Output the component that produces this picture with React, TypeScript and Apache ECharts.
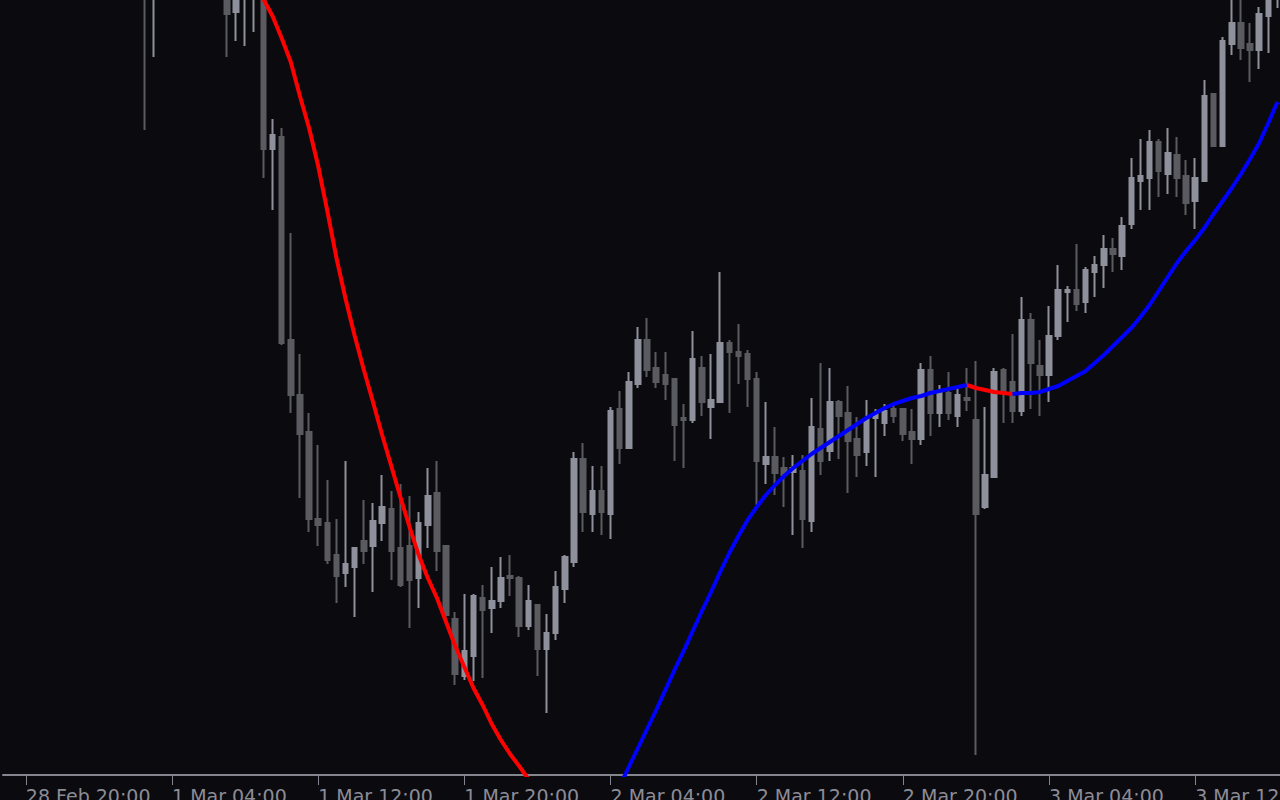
import React, { useEffect, useRef } from "react";
import * as echarts from "echarts";

// 30-minute bars, first bar 28 Feb 19:00
const DAYS = ["28 Feb", "1 Mar", "2 Mar", "3 Mar"];
const START_MINUTE = 19 * 60;
const BAR_MINUTES = 30;
const LABEL_TIMES = ["04:00", "12:00", "20:00"];

const OPEN = [
  825, 845, 835, 860, 850, 870, 855, 835, 853, 840,
  820, 837, 825, 843, 830, 815, 780, 810, 835, 820,
  845, 830, 850, 815, 805, 763, 778, 783, 800, 626,
  638, 435, 380, 343, 256, 252, 220, 202, 208, 234,
  229, 252, 266, 227, 229, 197, 250, 282, 229, 156,
  99, 119, 177, 167, 174, 199, 197, 149, 170, 126,
  142, 186, 213, 316, 261, 284, 261, 366, 327, 391,
  435, 407, 400, 396, 357, 355, 407, 368, 373, 432,
  423, 421, 396, 311, 318, 307, 303, 304, 254, 346,
  324, 373, 362, 336, 323, 357, 352, 366, 366, 343,
  336, 405, 362, 382, 359, 377, 355, 268, 298, 405,
  393, 364, 455, 409, 400, 439, 483, 485, 473, 503,
  510, 526, 519, 551, 594, 597, 633, 601, 620, 599,
  574, 594, 681, 629, 731, 752, 731, 725, 759, 780,
];
const CLOSE = [
  845, 835, 860, 850, 870, 855, 835, 853, 840, 820,
  837, 825, 843, 830, 815, 785, 810, 835, 820, 845,
  830, 850, 815, 805, 761, 795, 800, 805, 626, 640,
  432, 380, 341, 256, 250, 215, 199, 211, 227, 224,
  254, 268, 224, 190, 195, 252, 279, 224, 160, 101,
  124, 179, 165, 174, 197, 197, 149, 174, 126, 142,
  188, 218, 316, 263, 284, 263, 364, 327, 393, 435,
  405, 393, 391, 350, 355, 416, 373, 375, 432, 423,
  419, 396, 314, 318, 302, 300, 307, 256, 348, 314,
  373, 359, 334, 320, 356, 361, 364, 359, 341, 336,
  405, 362, 382, 362, 380, 375, 261, 300, 403, 384,
  364, 455, 412, 400, 439, 485, 485, 471, 505, 510,
  526, 521, 549, 597, 599, 633, 604, 622, 597, 572,
  597, 679, 629, 734, 752, 727, 725, 761, 787, 800,
];
const LOW = [
  815, 827, 830, 841, 845, 847, 825, 827, 833, 813,
  805, 815, 817, 820, 800, 645, 718, 800, 815, 813,
  823, 825, 805, 787, 718, 734, 729, 743, 597, 565,
  430, 362, 277, 243, 229, 211, 172, 188, 158, 211,
  183, 234, 195, 188, 147, 167, 227, 204, 155, 90,
  95, 94, 97, 142, 167, 179, 138, 145, 99, 62,
  135, 172, 208, 243, 243, 240, 236, 311, 327, 387,
  398, 387, 375, 314, 307, 352, 359, 336, 373, 362,
  391, 368, 270, 291, 280, 268, 240, 227, 243, 300,
  314, 316, 282, 298, 309, 298, 339, 352, 334, 311,
  330, 339, 348, 355, 348, 364, 20, 266, 298, 352,
  352, 359, 366, 359, 373, 435, 453, 464, 462, 478,
  487, 503, 505, 546, 565, 565, 578, 581, 578, 560,
  546, 594, 629, 629, 720, 715, 693, 706, 722, 767,
];
const HIGH = [
  860, 870, 875, 885, 890, 895, 867, 865, 875, 855,
  845, 860, 855, 863, 850, 835, 825, 850, 855, 865,
  870, 875, 860, 835, 820, 810, 815, 820, 805, 656,
  647, 542, 421, 362, 330, 295, 256, 314, 227, 275,
  272, 300, 284, 291, 279, 263, 307, 314, 229, 163,
  181, 181, 190, 208, 218, 220, 199, 190, 170, 161,
  204, 220, 323, 332, 309, 309, 368, 384, 403, 448,
  457, 423, 423, 396, 371, 444, 419, 421, 503, 435,
  451, 425, 403, 373, 348, 318, 320, 320, 377, 412,
  407, 375, 389, 358, 375, 366, 371, 373, 367, 366,
  412, 419, 390, 403, 388, 407, 414, 368, 407, 407,
  441, 478, 462, 435, 469, 510, 489, 531, 508, 519,
  540, 537, 558, 617, 636, 645, 636, 647, 638, 615,
  617, 695, 681, 738, 790, 785, 752, 768, 800, 810,
];
// Smoothed trend line (null where not drawn)
const TREND: (number | null)[] = [
  null, null, null, null, null, null, null, null, null, null,
  null, null, null, null, null, null, null, null, null, null,
  925, 903, 882, 863, 845, 827, 811, 794, 776, 759,
  737, 713, 679, 647, 609, 564, 517, 476, 439, 405,
  373, 340, 309, 278, 248, 220, 197, 177, 153, 129,
  108, 87, 70, 51, 35, 21, 9, -4, -16, -26,
  -34, -40, -44, -45, -43, -37, -26, -11, 8, 27,
  46, 65, 85, 105, 124, 144, 164, 183, 203, 222,
  239, 255, 268, 280, 290, 299, 307, 314, 321, 327,
  333, 339, 345, 351, 357, 362, 367, 371, 374, 377,
  379, 382, 384, 386, 388, 390, 387, 385, 383, 382,
  381, 382, 382, 383, 386, 389, 394, 399, 404, 412,
  420, 429, 438, 447, 458, 470, 484, 498, 512, 524,
  535, 547, 561, 574, 587, 601, 616, 632, 652, 673,
];

const Y_MIN = 0;
const Y_MAX = 775;

const BG = "#0a0a0f";
const UP = "#8e909c";
const DOWN = "#5a5b61";
const AXIS = "#85858f";
const LABEL = "#8c8c96";

const categories = OPEN.map((_, i) => {
  const t = START_MINUTE + i * BAR_MINUTES;
  const d = Math.floor(t / 1440);
  const m = t % 1440;
  const hh = String(Math.floor(m / 60)).padStart(2, "0");
  const mm = String(m % 60).padStart(2, "0");
  return `${DAYS[d]} ${hh}:${mm}`;
});

const isMajor = (v: string) => LABEL_TIMES.some((t) => v.endsWith(" " + t));

const seg = (i: number, falling: boolean) => {
  if (i < 0 || i >= TREND.length - 1) return false;
  const a = TREND[i];
  const b = TREND[i + 1];
  if (a == null || b == null) return false;
  return falling ? b < a : b >= a;
};
const redData = TREND.map((v, i) => (v != null && (seg(i, true) || seg(i - 1, true)) ? v : null));
const blueData = TREND.map((v, i) => (v != null && (seg(i, false) || seg(i - 1, false)) ? v : null));

export default function App() {
  const ref = useRef<HTMLDivElement>(null);
  useEffect(() => {
    document.body.style.margin = "0";
    document.body.style.background = BG;
    const chart = echarts.init(ref.current!, null, { renderer: "svg" });
    chart.setOption({
      animation: false,
      backgroundColor: BG,
      grid: {
        left: 3,
        top: 0,
        width: 1279,
        height: 775,
        containLabel: false,
        outerBoundsMode: "none",
      },
      xAxis: {
        type: "category",
        data: categories,
        boundaryGap: true,
        axisLine: { show: true, lineStyle: { color: AXIS, width: 2 } },
        axisTick: {
          show: true,
          alignWithLabel: true,
          interval: (_i: number, v: string) => isMajor(v),
          length: 10,
          lineStyle: { color: AXIS, width: 1 },
        },
        axisLabel: {
          show: true,
          interval: (_i: number, v: string) => isMajor(v),
          align: "left",
          verticalAlign: "top",
          margin: 11,
          color: LABEL,
          fontFamily: "DejaVu Sans",
          fontSize: 19,
          hideOverlap: false,
        },
        splitLine: { show: false },
      },
      yAxis: {
        type: "value",
        min: Y_MIN,
        max: Y_MAX,
        show: false,
        splitLine: { show: false },
      },
      series: [
        {
          type: "candlestick",
          data: OPEN.map((o, i) => [o, CLOSE[i], LOW[i], HIGH[i]]),
          barWidth: 5,
          clip: true,
          itemStyle: {
            color: UP,
            color0: DOWN,
            borderColor: UP,
            borderColor0: DOWN,
            borderWidth: 2,
          },
          z: 2,
        },
        {
          type: "line",
          data: redData,
          symbol: "none",
          connectNulls: false,
          clip: true,
          lineStyle: { color: "#ff0000", width: 4 },
          z: 3,
        },
        {
          type: "line",
          data: blueData,
          symbol: "none",
          connectNulls: false,
          clip: true,
          lineStyle: { color: "#0000ff", width: 4 },
          z: 3,
        },
      ],
    });
    return () => chart.dispose();
  }, []);
  return <div ref={ref} style={{ width: 1280, height: 800 }} />;
}
